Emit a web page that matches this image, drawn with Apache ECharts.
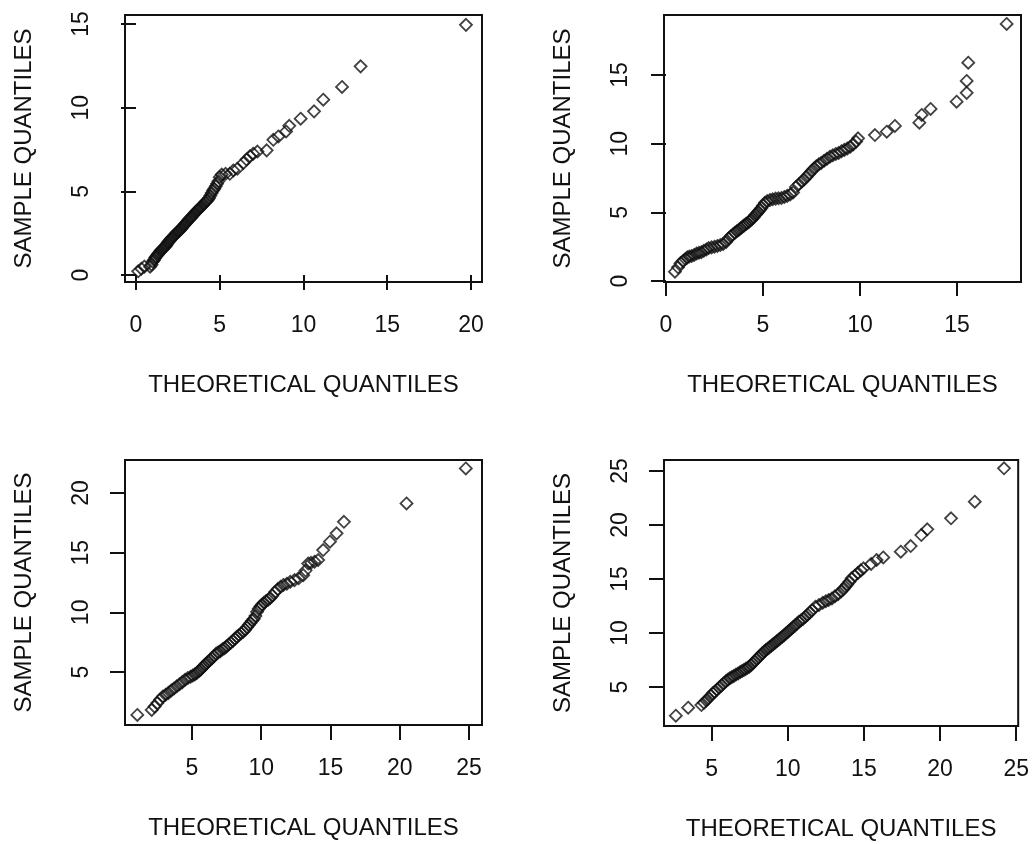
<!DOCTYPE html>
<html>
	<head>
		<meta charset="UTF-8">
		<title>QQ plots</title>
	</head>
	<style>
		*{
			padding:0;
			margin:0;
		}
		body{
			background:#fff;
		}
	</style>
	<body>
		<div id="qq" style="width:1032px;height:844px;"></div>
	</body>
	<script type="text/javascript" src="https://cdn.jsdelivr.net/npm/echarts@6/dist/echarts.min.js"></script>
	<script>
		// panel 1 (top left)
		var x1=[0.13,0.32,0.5,0.84,0.93,1.0,1.08,1.14,1.2,1.27,
			1.33,1.4,1.46,1.52,1.58,1.63,1.7,1.76,1.82,1.88,
			1.93,2.0,2.06,2.12,2.18,2.24,2.3,2.37,2.43,2.49,
			2.55,2.62,2.68,2.74,2.8,2.87,2.93,3.0,3.06,3.12,
			3.19,3.25,3.32,3.38,3.45,3.51,3.58,3.65,3.72,3.79,
			3.86,3.93,4.0,4.07,4.14,4.22,4.29,4.37,4.44,4.52,
			4.6,4.68,4.76,4.84,4.92,5.0,5.12,5.35,5.6,5.81,
			6.05,6.41,6.6,6.8,7.0,7.25,7.8,8.2,8.5,8.96,
			9.15,9.83,10.63,11.18,12.3,13.41,19.7];
		var y1=[0.22,0.38,0.5,0.5,0.62,0.8,0.9,1.02,1.1,1.18,
			1.27,1.35,1.43,1.5,1.55,1.6,1.66,1.72,1.8,1.9,
			1.98,2.05,2.12,2.2,2.25,2.3,2.38,2.45,2.52,2.58,
			2.62,2.68,2.75,2.82,2.9,2.98,3.05,3.12,3.2,3.28,
			3.35,3.4,3.46,3.55,3.62,3.7,3.78,3.86,3.9,3.98,
			4.05,4.12,4.2,4.28,4.35,4.42,4.5,4.6,4.75,4.9,
			5.05,5.15,5.3,5.45,5.6,5.85,6.0,6.05,6.05,6.25,
			6.35,6.7,6.9,7.1,7.25,7.38,7.45,8.08,8.28,8.58,
			8.92,9.34,9.78,10.48,11.24,12.47,14.95];

		// panel 2 (top right)
		var x2=[0.46,0.62,0.75,0.88,1.0,1.1,1.2,1.32,1.45,1.58,
			1.7,1.82,1.95,2.08,2.2,2.35,2.5,2.65,2.8,2.95,
			3.1,3.22,3.34,3.45,3.55,3.65,3.75,3.85,3.94,4.03,
			4.12,4.2,4.28,4.36,4.44,4.52,4.6,4.68,4.76,4.84,
			4.92,5.0,5.1,5.22,5.36,5.5,5.65,5.8,5.95,6.1,
			6.25,6.4,6.55,6.7,6.85,7.0,7.12,7.25,7.38,7.5,
			7.62,7.75,7.88,8.0,8.15,8.3,8.45,8.6,8.75,8.9,
			9.05,9.2,9.35,9.5,9.65,9.8,9.9,10.77,11.38,11.8,
			13.06,13.18,13.64,14.98,15.5,15.5,15.58,17.56];
		var y2=[0.68,1.0,1.3,1.45,1.6,1.72,1.78,1.82,1.9,2.0,
			2.05,2.1,2.2,2.3,2.4,2.45,2.5,2.55,2.62,2.7,
			2.85,3.1,3.25,3.38,3.52,3.62,3.72,3.84,3.95,4.05,
			4.15,4.22,4.32,4.42,4.52,4.65,4.8,4.92,5.05,5.18,
			5.32,5.5,5.7,5.82,5.9,5.95,6.0,6.02,6.05,6.12,
			6.2,6.3,6.45,6.85,7.05,7.25,7.4,7.6,7.8,8.0,
			8.18,8.35,8.5,8.6,8.75,8.9,9.05,9.15,9.25,9.32,
			9.45,9.55,9.65,9.78,9.95,10.15,10.39,10.63,10.87,11.29,
			11.53,12.09,12.53,13.06,13.7,14.57,15.9,18.72];

		// panel 3 (bottom left)
		var x3=[1.05,2.09,2.3,2.5,2.7,2.9,3.1,3.3,3.5,3.7,
			3.9,4.1,4.3,4.5,4.7,4.9,5.05,5.2,5.35,5.5,
			5.62,5.74,5.85,5.96,6.07,6.18,6.3,6.45,6.6,6.75,
			6.9,7.05,7.2,7.35,7.5,7.65,7.8,7.95,8.1,8.25,
			8.4,8.55,8.7,8.84,8.97,9.1,9.22,9.34,9.46,9.58,
			9.7,9.82,9.94,10.06,10.2,10.35,10.5,10.65,10.8,11.0,
			11.2,11.4,11.6,11.85,12.1,12.4,12.7,13.03,13.2,13.39,
			13.6,13.85,14.11,14.47,14.96,15.44,15.97,20.49,24.77];
		var y3=[1.4,1.82,2.1,2.4,2.7,2.95,3.1,3.25,3.45,3.62,
			3.8,3.98,4.15,4.35,4.5,4.6,4.7,4.8,4.92,5.08,
			5.2,5.35,5.5,5.62,5.75,5.88,6.0,6.15,6.35,6.55,
			6.65,6.75,6.9,7.0,7.15,7.3,7.45,7.6,7.78,7.95,
			8.1,8.25,8.38,8.55,8.75,8.95,9.1,9.3,9.45,9.7,
			10.05,10.3,10.5,10.65,10.8,10.95,11.05,11.2,11.4,11.7,
			11.95,12.14,12.3,12.4,12.56,12.7,12.85,13.12,13.5,14.1,
			14.15,14.25,14.38,15.22,15.92,16.62,17.59,19.13,22.06];

		// panel 4 (bottom right)
		var x4=[2.65,3.46,4.33,4.5,4.65,4.8,4.95,5.08,5.2,5.35,
			5.5,5.65,5.8,5.95,6.08,6.2,6.33,6.46,6.6,6.74,
			6.88,7.0,7.12,7.24,7.36,7.48,7.6,7.72,7.84,7.96,
			8.08,8.2,8.32,8.44,8.56,8.68,8.8,8.92,9.04,9.16,
			9.28,9.4,9.52,9.64,9.76,9.88,10.0,10.12,10.24,10.36,
			10.48,10.6,10.73,10.86,11.0,11.15,11.3,11.45,11.6,11.82,
			12.05,12.3,12.5,12.69,12.9,13.1,13.3,13.5,13.65,13.78,
			13.9,14.05,14.2,14.4,14.6,14.8,14.97,15.47,15.83,16.27,
			17.42,18.07,18.77,19.16,20.72,22.28,24.2];
		var y4=[2.34,3.08,3.33,3.55,3.75,3.98,4.2,4.42,4.55,4.75,
			4.95,5.15,5.35,5.55,5.7,5.82,5.92,6.02,6.15,6.25,
			6.38,6.48,6.58,6.68,6.78,6.88,7.05,7.22,7.4,7.58,
			7.75,7.92,8.1,8.27,8.43,8.55,8.68,8.82,8.95,9.1,
			9.24,9.38,9.52,9.66,9.8,9.95,10.1,10.25,10.4,10.55,
			10.7,10.85,11.05,11.15,11.3,11.5,11.7,11.9,12.1,12.44,
			12.6,12.8,12.95,13.06,13.2,13.4,13.6,13.85,14.05,14.29,
			14.5,14.75,15.06,15.3,15.55,15.8,15.99,16.39,16.76,17.0,
			17.53,18.05,19.07,19.6,20.62,22.16,25.25];

		// tick labels
		var xt1=[0,5,10,15,20];
		var yt1=[0,5,10,15];
		var xt2=[0,5,10,15];
		var yt2=[0,5,10,15];
		var xt3=[5,10,15,20,25];
		var yt3=[5,10,15,20];
		var xt4=[5,10,15,20,25];
		var yt4=[5,10,15,20,25];

		var xName="THEORETICAL QUANTILES";
		var yName="SAMPLE QUANTILES";

		var font="'Liberation Sans', Arial, sans-serif";

		var panels=[
			{x:x1,y:y1,xt:xt1,yt:yt1,grid:{left:125,top:15,width:357,height:267},xr:[-0.657,20.657],yr:[-0.418,15.54]},
			{x:x2,y:y2,xt:xt2,yt:yt2,grid:{left:664,top:15,width:357,height:267},xr:[-0.103,18.3],yr:[-0.073,19.37]},
			{x:x3,y:y3,xt:xt3,yt:yt3,grid:{left:125,top:460,width:357,height:265},xr:[0.162,25.94],yr:[0.558,22.77]},
			{x:x4,y:y4,xt:xt4,yt:yt4,grid:{left:664,top:460,width:357,height:266},xr:[1.873,25.13],yr:[1.389,26.02]}
		];

		function pairs(xs,ys){
			var out=[];
			for(var i=0;i<xs.length;i++){
				out.push([xs[i],ys[i]]);
			}
			return out;
		}

		var grids=[],xAxes=[],yAxes=[],series=[];
		panels.forEach(function(p,i){
			grids.push({
				left:p.grid.left,
				top:p.grid.top,
				width:p.grid.width,
				height:p.grid.height,
				show:true,
				borderColor:"#111",
				borderWidth:2,
				backgroundColor:"#fff"
			});
			xAxes.push({
				gridIndex:i,
				type:"value",
				min:p.xr[0],
				max:p.xr[1],
				name:xName,
				nameLocation:"middle",
				nameGap:91,
				nameTextStyle:{color:"#111",fontSize:24,fontFamily:font},
				axisLine:{show:false},
				splitLine:{show:false},
				axisTick:{show:true,length:15,customValues:p.xt,lineStyle:{color:"#111",width:2}},
				axisLabel:{show:true,margin:32,customValues:p.xt,color:"#111",fontSize:23,fontFamily:font}
			});
			yAxes.push({
				gridIndex:i,
				type:"value",
				min:p.yr[0],
				max:p.yr[1],
				name:yName,
				nameLocation:"middle",
				nameGap:89,
				nameTextStyle:{color:"#111",fontSize:24,fontFamily:font},
				axisLine:{show:false},
				splitLine:{show:false},
				axisTick:{show:true,length:15,customValues:p.yt,lineStyle:{color:"#111",width:2}},
				axisLabel:{show:true,margin:32,rotate:90,customValues:p.yt,color:"#111",fontSize:23,fontFamily:font}
			});
			series.push({
				type:"scatter",
				xAxisIndex:i,
				yAxisIndex:i,
				symbol:"diamond",
				symbolSize:[12,12],
				itemStyle:{
					color:"rgba(0,0,0,0)",
					borderColor:"#111",
					borderWidth:1.8
				},
				data:pairs(p.x,p.y)
			});
		});

		var chart=echarts.init(document.getElementById("qq"));
		chart.setOption({
			animation:false,
			backgroundColor:"#fff",
			grid:grids,
			xAxis:xAxes,
			yAxis:yAxes,
			series:series
		});
	</script>
</html>
